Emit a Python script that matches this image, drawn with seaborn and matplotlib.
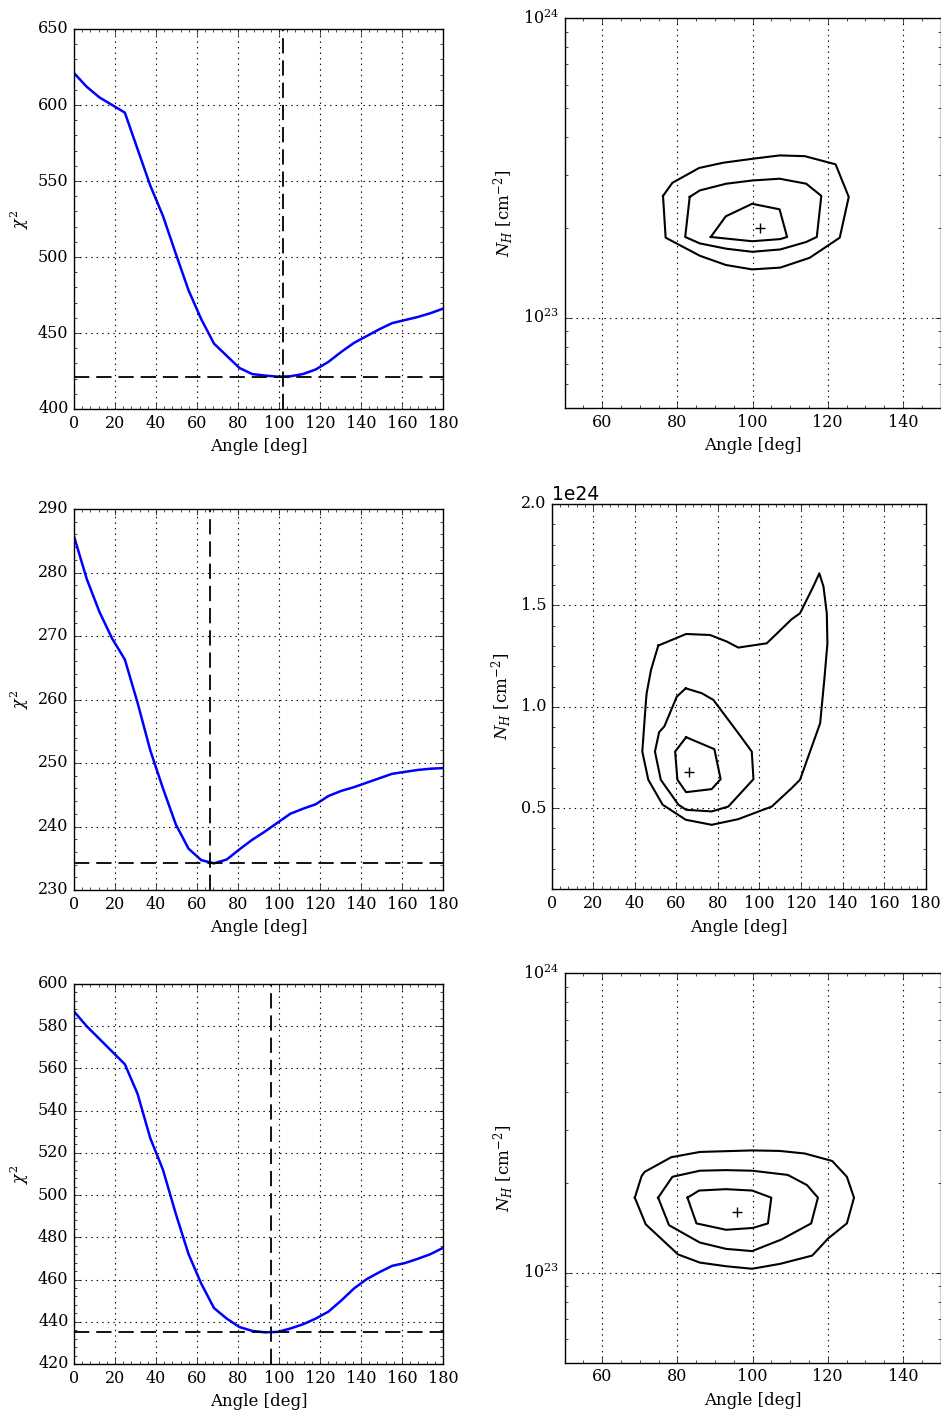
import numpy as np
import matplotlib
matplotlib.use('Agg')
import matplotlib.pyplot as plt
import seaborn as sns
from matplotlib.ticker import MultipleLocator, NullFormatter

# estilo antigo do matplotlib (ticks para dentro, grade pontilhada)
plt.style.use('classic')
plt.rcParams['font.family'] = 'serif'
plt.rcParams['font.serif'] = ['DejaVu Serif']
plt.rcParams['mathtext.fontset'] = 'dejavuserif'
plt.rcParams['font.size'] = 11.5
plt.rcParams['xtick.labelsize'] = 11.5
plt.rcParams['ytick.labelsize'] = 11.5

# =============================================================================
# DADOS
# =============================================================================

# angulos da grade de chi2 (graus)
angulos = [0, 6.2, 12.4, 18.6, 24.8, 31.0, 37.2, 43.4, 49.7, 55.9, 62.1, 68.3,
           74.5, 80.7, 86.9, 93.1, 99.3, 105.5, 111.7, 117.9, 124.1, 130.3,
           136.6, 142.8, 149.0, 155.2, 161.4, 167.6, 173.8, 180]

chi2_a = [621, 612, 605, 600, 595, 571, 547, 527, 502, 478, 459, 443,
          435, 427, 423, 422, 421.3, 421.5, 423, 426, 431, 437.5,
          443.5, 448, 452.5, 456.5, 458.5, 460.5, 463, 466]
chi2_b = [285.7, 279, 273.8, 269.6, 266.3, 259.5, 252, 246, 240.3, 236.5, 234.7, 234.2,
          234.8, 236.4, 237.9, 239.2, 240.6, 242, 242.8, 243.5, 244.8, 245.6,
          246.2, 246.9, 247.6, 248.3, 248.6, 248.9, 249.1, 249.2]
chi2_c = [587, 580, 574, 568, 562, 548, 527, 512, 491, 472, 458, 446.5,
          441.5, 437.5, 435.7, 435, 435.2, 436.8, 438.8, 441.5, 444.8, 450,
          455.8, 460.2, 463.5, 466.5, 467.8, 469.8, 472, 475]

chi2_min = [421, 234.2, 435]
ang_best = [102, 66.5, 96]

# contornos: angulo (graus) e NH (em 1e23 cm^-2 para a e c, 1e24 para b)
cont_a = [
    ([76.2, 78.7, 85.8, 92.2, 99.9, 107.2, 113.9, 122.1, 125.6, 123.2, 115.2, 107.4, 99.9, 92.9, 86.0, 76.9],
     [2.55, 2.82, 3.16, 3.29, 3.39, 3.48, 3.46, 3.25, 2.53, 1.85, 1.585, 1.47, 1.45, 1.50, 1.61, 1.85]),
    ([83.3, 86.0, 93.0, 99.9, 107.2, 114.3, 118.3, 117.1, 114.3, 107.4, 99.9, 93.0, 86.0, 82.1],
     [2.53, 2.66, 2.80, 2.87, 2.91, 2.80, 2.55, 1.86, 1.79, 1.69, 1.66, 1.70, 1.77, 1.86]),
    ([88.9, 92.9, 99.9, 107.2, 109.2, 107.4, 99.9],
     [1.86, 2.18, 2.40, 2.30, 1.86, 1.83, 1.80]),
]
cont_b = [
    ([51.3, 47.8, 45.7, 45.4, 43.6, 46.5, 53.4, 64.5, 77.0, 89.8, 105.9, 115.5, 119.5, 129.2,
      131.2, 132.7, 132.4, 130.8, 128.8, 125.9, 119.5, 115.5, 103.5, 89.8, 84.2, 76.2, 64.7],
     [1.302, 1.182, 1.067, 1.034, 0.779, 0.640, 0.517, 0.443, 0.418, 0.446, 0.508, 0.599, 0.640, 0.919,
      1.133, 1.313, 1.461, 1.593, 1.658, 1.593, 1.461, 1.432, 1.313, 1.292, 1.322, 1.354, 1.359]),
    ([64.5, 60.2, 54.2, 51.7, 49.7, 52.5, 61.0, 64.7, 77.0, 85.0, 97.1, 96.3, 89.8, 77.8, 72.2],
     [1.091, 1.050, 0.903, 0.875, 0.779, 0.640, 0.517, 0.492, 0.484, 0.508, 0.643, 0.779, 0.870, 1.034, 1.067]),
    ([64.7, 59.4, 60.5, 64.7, 77.0, 81.3, 78.3],
     [0.850, 0.779, 0.640, 0.579, 0.594, 0.643, 0.791]),
]
cont_c = [
    ([68.7, 70.5, 71.3, 78.4, 86.0, 99.9, 107.2, 113.9, 121.2, 125.1, 127.0, 125.1, 120.1, 115.9,
      107.4, 99.9, 93.0, 86.0, 80.2, 71.6],
     [1.78, 2.10, 2.17, 2.43, 2.53, 2.56, 2.55, 2.50, 2.36, 2.09, 1.78, 1.46, 1.30, 1.14,
      1.07, 1.03, 1.05, 1.08, 1.15, 1.45]),
    ([74.9, 78.7, 86.0, 93.0, 99.9, 109.4, 114.5, 117.4, 115.6, 107.7, 99.9, 93.0, 86.0, 77.8],
     [1.78, 2.09, 2.19, 2.20, 2.19, 2.12, 1.96, 1.78, 1.46, 1.29, 1.18, 1.20, 1.26, 1.44]),
    ([82.7, 85.8, 92.9, 99.9, 105.0, 104.1, 100.1, 93.0, 85.1],
     [1.78, 1.88, 1.90, 1.88, 1.78, 1.46, 1.41, 1.39, 1.46]),
]
melhor_a = (102.1, 2.0)
melhor_b = (66.3, 0.68)
melhor_c = (96.0, 1.59)

# =============================================================================
# FIGURA
# =============================================================================
W, H = 941, 1416
fig = plt.figure(figsize=(W / 100, H / 100), dpi=100, facecolor='white')


def eixo(x0, x1, y0, y1):
    # posicao em pixels da imagem (origem no topo)
    return fig.add_axes([x0 / W, 1 - y1 / H, (x1 - x0) / W, (y1 - y0) / H])


def painel_chi2(ax, chi2, cmin, abest, ylim, ymaj, ymin_):
    sns.lineplot(x=angulos, y=chi2, ax=ax, color='blue', lw=1.8, sort=False, estimator=None)
    ax.axhline(cmin, color='k', lw=1.3, dashes=(11, 5))
    ax.axvline(abest, color='k', lw=1.3, dashes=(11, 5))
    ax.set_xlim(0, 180)
    ax.set_ylim(*ylim)
    ax.xaxis.set_major_locator(MultipleLocator(20))
    ax.xaxis.set_minor_locator(MultipleLocator(4))
    ax.yaxis.set_major_locator(MultipleLocator(ymaj))
    ax.yaxis.set_minor_locator(MultipleLocator(ymin_))
    ax.grid(True, color='k', linestyle=':', lw=0.8)
    ax.set_xlabel('Angle [deg]', fontsize=12)
    ax.set_ylabel(r'$\chi^2$', fontsize=11.5)


def painel_cont(ax, conts, melhor, escala, log=True):
    for xs, ys in conts:
        xs = list(xs) + [xs[0]]
        ys = [v * escala for v in list(ys) + [ys[0]]]
        sns.lineplot(x=xs, y=ys, ax=ax, color='k', lw=1.5, sort=False, estimator=None)
    sns.scatterplot(x=[melhor[0]], y=[melhor[1] * escala], ax=ax, marker='+',
                    color='k', s=60, linewidth=1)
    if log:
        ax.set_yscale('log')
        ax.set_ylim(5e22, 1e24)
        ax.yaxis.set_minor_formatter(NullFormatter())
        ax.set_xlim(50, 150)
        ax.xaxis.set_major_locator(MultipleLocator(20))
        ax.xaxis.set_minor_locator(MultipleLocator(5))
    ax.grid(True, color='k', linestyle=':', lw=0.8)
    ax.set_xlabel('Angle [deg]', fontsize=12)
    ax.set_ylabel(r'$N_H$ [cm$^{-2}$]', fontsize=12)


# linha 1
ax1 = eixo(74, 443, 29, 409)
painel_chi2(ax1, chi2_a, chi2_min[0], ang_best[0], (400, 650), 50, 10)
ax2 = eixo(564.5, 940.5, 18, 408)
painel_cont(ax2, cont_a, melhor_a, 1e23)

# linha 2
ax3 = eixo(74, 443, 509, 890)
painel_chi2(ax3, chi2_b, chi2_min[1], ang_best[1], (230, 290), 10, 2)
ax4 = eixo(551.7, 925.7, 504, 889.3)
painel_cont(ax4, cont_b, melhor_b, 1e24, log=False)
ax4.set_xlim(0, 180)
ax4.set_ylim(0.1e24, 2.0e24)
ax4.xaxis.set_major_locator(MultipleLocator(20))
ax4.xaxis.set_minor_locator(MultipleLocator(4))
ax4.yaxis.set_major_locator(MultipleLocator(0.5e24))
ax4.yaxis.set_minor_locator(MultipleLocator(0.1e24))
ax4.yaxis.get_offset_text().set_family('DejaVu Sans')
ax4.yaxis.get_offset_text().set_fontsize(13.5)

# linha 3
ax5 = eixo(74, 443, 984, 1364)
painel_chi2(ax5, chi2_c, chi2_min[2], ang_best[2], (420, 600), 20, 4)
ax6 = eixo(564.5, 940.5, 973.3, 1362.7)
painel_cont(ax6, cont_c, melhor_c, 1e23)

fig.savefig('out.png', dpi=100, facecolor='white')
